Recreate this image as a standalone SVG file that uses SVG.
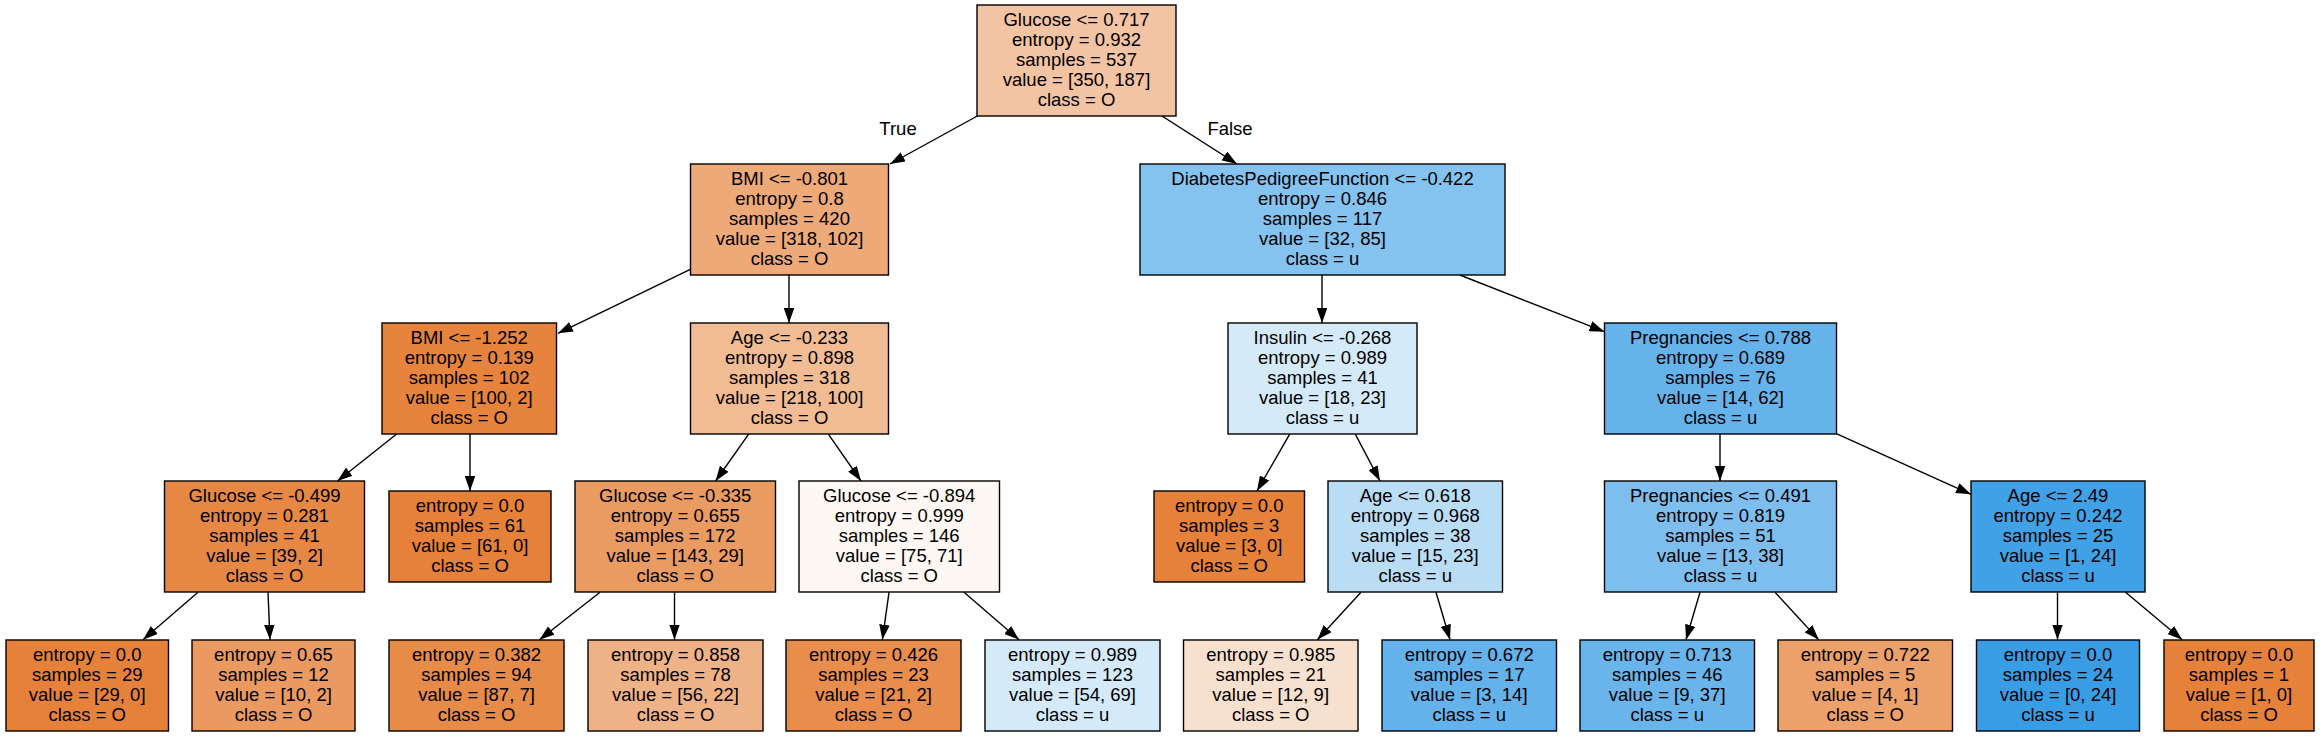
<svg xmlns="http://www.w3.org/2000/svg" width="2323" height="736" viewBox="0 0 2323 736">
<style>
.n rect{stroke:#000;stroke-width:1.4}
text{font-family:"Liberation Sans",Arial,Helvetica,sans-serif;font-size:18.5px;fill:#000;text-anchor:middle}
#edges line{stroke:#000;stroke-width:1.4;marker-end:url(#ah)}
</style>
<defs>
<marker id="ah" viewBox="0 0 10 7" refX="10" refY="3.5" markerWidth="15" markerHeight="10.5" markerUnits="userSpaceOnUse" orient="auto">
<path d="M0,0 L10,3.5 L0,7 z" fill="#000"/>
</marker>
</defs>
<rect width="2323" height="736" fill="#fff"/>
<g id="edges">
<line x1="977.3" y1="116" x2="890" y2="164"/>
<line x1="1162" y1="116" x2="1237" y2="164"/>
<line x1="690.3" y1="269.3" x2="558" y2="333.3"/>
<line x1="789" y1="275" x2="789" y2="323"/>
<line x1="1322" y1="275" x2="1322" y2="323"/>
<line x1="1459.8" y1="275" x2="1604.4" y2="331.7"/>
<line x1="397" y1="433.7" x2="337.5" y2="481"/>
<line x1="470" y1="433.7" x2="470" y2="491"/>
<line x1="749" y1="433.7" x2="715.6" y2="481"/>
<line x1="828" y1="433.7" x2="861" y2="481"/>
<line x1="1290" y1="433.7" x2="1257" y2="491"/>
<line x1="1355" y1="433.7" x2="1380" y2="481"/>
<line x1="1720" y1="433.7" x2="1720" y2="481"/>
<line x1="1836.3" y1="433.7" x2="1971" y2="494.3"/>
<line x1="198" y1="592.3" x2="143" y2="639.7"/>
<line x1="268" y1="592.3" x2="270" y2="639.7"/>
<line x1="600" y1="592.3" x2="539.5" y2="639.7"/>
<line x1="674.5" y1="592.3" x2="674.5" y2="639.7"/>
<line x1="889" y1="592.3" x2="882.4" y2="639.7"/>
<line x1="964" y1="592.3" x2="1019" y2="639.7"/>
<line x1="1361" y1="592.3" x2="1317.4" y2="639.7"/>
<line x1="1436" y1="592.3" x2="1450" y2="639.7"/>
<line x1="1700" y1="592.3" x2="1686" y2="639.7"/>
<line x1="1775" y1="592.3" x2="1818.7" y2="639.7"/>
<line x1="2057.5" y1="592.3" x2="2057.5" y2="639.7"/>
<line x1="2125.6" y1="592.3" x2="2182.2" y2="639.7"/>
<text x="898" y="135">True</text>
<text x="1230" y="135">False</text>
</g>
<g id="n0" class="n"><rect x="977" y="5" width="199" height="111" fill="#f3c4a3"/>
<text><tspan x="1076.5" y="25.5">Glucose &lt;= 0.717</tspan><tspan x="1076.5" y="45.5">entropy = 0.932</tspan><tspan x="1076.5" y="65.5">samples = 537</tspan><tspan x="1076.5" y="85.5">value = [350, 187]</tspan><tspan x="1076.5" y="105.5">class = O</tspan></text></g>
<g id="n1" class="n"><rect x="690.5" y="164" width="198" height="111" fill="#eda978"/>
<text><tspan x="789.5" y="184.5">BMI &lt;= -0.801</tspan><tspan x="789.5" y="204.5">entropy = 0.8</tspan><tspan x="789.5" y="224.5">samples = 420</tspan><tspan x="789.5" y="244.5">value = [318, 102]</tspan><tspan x="789.5" y="264.5">class = O</tspan></text></g>
<g id="n2" class="n"><rect x="1140" y="164" width="365" height="111" fill="#84c2ef"/>
<text><tspan x="1322.5" y="184.5">DiabetesPedigreeFunction &lt;= -0.422</tspan><tspan x="1322.5" y="204.5">entropy = 0.846</tspan><tspan x="1322.5" y="224.5">samples = 117</tspan><tspan x="1322.5" y="244.5">value = [32, 85]</tspan><tspan x="1322.5" y="264.5">class = u</tspan></text></g>
<g id="n3" class="n"><rect x="382" y="323" width="174.5" height="111" fill="#e6843d"/>
<text><tspan x="469.2" y="343.5">BMI &lt;= -1.252</tspan><tspan x="469.2" y="363.5">entropy = 0.139</tspan><tspan x="469.2" y="383.5">samples = 102</tspan><tspan x="469.2" y="403.5">value = [100, 2]</tspan><tspan x="469.2" y="423.5">class = O</tspan></text></g>
<g id="n4" class="n"><rect x="690.5" y="323" width="198" height="111" fill="#f1bb94"/>
<text><tspan x="789.5" y="343.5">Age &lt;= -0.233</tspan><tspan x="789.5" y="363.5">entropy = 0.898</tspan><tspan x="789.5" y="383.5">samples = 318</tspan><tspan x="789.5" y="403.5">value = [218, 100]</tspan><tspan x="789.5" y="423.5">class = O</tspan></text></g>
<g id="n5" class="n"><rect x="1228" y="323" width="189" height="111" fill="#d4eaf9"/>
<text><tspan x="1322.5" y="343.5">Insulin &lt;= -0.268</tspan><tspan x="1322.5" y="363.5">entropy = 0.989</tspan><tspan x="1322.5" y="383.5">samples = 41</tspan><tspan x="1322.5" y="403.5">value = [18, 23]</tspan><tspan x="1322.5" y="423.5">class = u</tspan></text></g>
<g id="n6" class="n"><rect x="1604.5" y="323" width="232" height="111" fill="#66b3eb"/>
<text><tspan x="1720.5" y="343.5">Pregnancies &lt;= 0.788</tspan><tspan x="1720.5" y="363.5">entropy = 0.689</tspan><tspan x="1720.5" y="383.5">samples = 76</tspan><tspan x="1720.5" y="403.5">value = [14, 62]</tspan><tspan x="1720.5" y="423.5">class = u</tspan></text></g>
<g id="n7" class="n"><rect x="164.5" y="481" width="200" height="111" fill="#e68843"/>
<text><tspan x="264.5" y="501.5">Glucose &lt;= -0.499</tspan><tspan x="264.5" y="521.5">entropy = 0.281</tspan><tspan x="264.5" y="541.5">samples = 41</tspan><tspan x="264.5" y="561.5">value = [39, 2]</tspan><tspan x="264.5" y="581.5">class = O</tspan></text></g>
<g id="n8" class="n"><rect x="389" y="491" width="162" height="91" fill="#e58139"/>
<text><tspan x="470" y="511.5">entropy = 0.0</tspan><tspan x="470" y="531.5">samples = 61</tspan><tspan x="470" y="551.5">value = [61, 0]</tspan><tspan x="470" y="571.5">class = O</tspan></text></g>
<g id="n9" class="n"><rect x="575" y="481" width="200.5" height="111" fill="#ea9b61"/>
<text><tspan x="675.2" y="501.5">Glucose &lt;= -0.335</tspan><tspan x="675.2" y="521.5">entropy = 0.655</tspan><tspan x="675.2" y="541.5">samples = 172</tspan><tspan x="675.2" y="561.5">value = [143, 29]</tspan><tspan x="675.2" y="581.5">class = O</tspan></text></g>
<g id="n10" class="n"><rect x="799" y="481" width="200.5" height="111" fill="#fef8f4"/>
<text><tspan x="899.2" y="501.5">Glucose &lt;= -0.894</tspan><tspan x="899.2" y="521.5">entropy = 0.999</tspan><tspan x="899.2" y="541.5">samples = 146</tspan><tspan x="899.2" y="561.5">value = [75, 71]</tspan><tspan x="899.2" y="581.5">class = O</tspan></text></g>
<g id="n11" class="n"><rect x="1154" y="491" width="150.5" height="91" fill="#e58139"/>
<text><tspan x="1229.2" y="511.5">entropy = 0.0</tspan><tspan x="1229.2" y="531.5">samples = 3</tspan><tspan x="1229.2" y="551.5">value = [3, 0]</tspan><tspan x="1229.2" y="571.5">class = O</tspan></text></g>
<g id="n12" class="n"><rect x="1328" y="481" width="174.5" height="111" fill="#baddf6"/>
<text><tspan x="1415.2" y="501.5">Age &lt;= 0.618</tspan><tspan x="1415.2" y="521.5">entropy = 0.968</tspan><tspan x="1415.2" y="541.5">samples = 38</tspan><tspan x="1415.2" y="561.5">value = [15, 23]</tspan><tspan x="1415.2" y="581.5">class = u</tspan></text></g>
<g id="n13" class="n"><rect x="1604.5" y="481" width="232" height="111" fill="#7dbeee"/>
<text><tspan x="1720.5" y="501.5">Pregnancies &lt;= 0.491</tspan><tspan x="1720.5" y="521.5">entropy = 0.819</tspan><tspan x="1720.5" y="541.5">samples = 51</tspan><tspan x="1720.5" y="561.5">value = [13, 38]</tspan><tspan x="1720.5" y="581.5">class = u</tspan></text></g>
<g id="n14" class="n"><rect x="1971" y="481" width="174" height="111" fill="#41a1e6"/>
<text><tspan x="2058" y="501.5">Age &lt;= 2.49</tspan><tspan x="2058" y="521.5">entropy = 0.242</tspan><tspan x="2058" y="541.5">samples = 25</tspan><tspan x="2058" y="561.5">value = [1, 24]</tspan><tspan x="2058" y="581.5">class = u</tspan></text></g>
<g id="n15" class="n"><rect x="6" y="640" width="162.5" height="91" fill="#e58139"/>
<text><tspan x="87.2" y="660.5">entropy = 0.0</tspan><tspan x="87.2" y="680.5">samples = 29</tspan><tspan x="87.2" y="700.5">value = [29, 0]</tspan><tspan x="87.2" y="720.5">class = O</tspan></text></g>
<g id="n16" class="n"><rect x="192" y="640" width="163" height="91" fill="#ea9a61"/>
<text><tspan x="273.5" y="660.5">entropy = 0.65</tspan><tspan x="273.5" y="680.5">samples = 12</tspan><tspan x="273.5" y="700.5">value = [10, 2]</tspan><tspan x="273.5" y="720.5">class = O</tspan></text></g>
<g id="n17" class="n"><rect x="389" y="640" width="175" height="91" fill="#e78b49"/>
<text><tspan x="476.5" y="660.5">entropy = 0.382</tspan><tspan x="476.5" y="680.5">samples = 94</tspan><tspan x="476.5" y="700.5">value = [87, 7]</tspan><tspan x="476.5" y="720.5">class = O</tspan></text></g>
<g id="n18" class="n"><rect x="588" y="640" width="175" height="91" fill="#efb287"/>
<text><tspan x="675.5" y="660.5">entropy = 0.858</tspan><tspan x="675.5" y="680.5">samples = 78</tspan><tspan x="675.5" y="700.5">value = [56, 22]</tspan><tspan x="675.5" y="720.5">class = O</tspan></text></g>
<g id="n19" class="n"><rect x="786" y="640" width="175" height="91" fill="#e88d4c"/>
<text><tspan x="873.5" y="660.5">entropy = 0.426</tspan><tspan x="873.5" y="680.5">samples = 23</tspan><tspan x="873.5" y="700.5">value = [21, 2]</tspan><tspan x="873.5" y="720.5">class = O</tspan></text></g>
<g id="n20" class="n"><rect x="985" y="640" width="175" height="91" fill="#d4eaf9"/>
<text><tspan x="1072.5" y="660.5">entropy = 0.989</tspan><tspan x="1072.5" y="680.5">samples = 123</tspan><tspan x="1072.5" y="700.5">value = [54, 69]</tspan><tspan x="1072.5" y="720.5">class = u</tspan></text></g>
<g id="n21" class="n"><rect x="1183.5" y="640" width="174.5" height="91" fill="#f8e0ce"/>
<text><tspan x="1270.7" y="660.5">entropy = 0.985</tspan><tspan x="1270.7" y="680.5">samples = 21</tspan><tspan x="1270.7" y="700.5">value = [12, 9]</tspan><tspan x="1270.7" y="720.5">class = O</tspan></text></g>
<g id="n22" class="n"><rect x="1382" y="640" width="174.5" height="91" fill="#63b2eb"/>
<text><tspan x="1469.2" y="660.5">entropy = 0.672</tspan><tspan x="1469.2" y="680.5">samples = 17</tspan><tspan x="1469.2" y="700.5">value = [3, 14]</tspan><tspan x="1469.2" y="720.5">class = u</tspan></text></g>
<g id="n23" class="n"><rect x="1580" y="640" width="174.5" height="91" fill="#69b5eb"/>
<text><tspan x="1667.2" y="660.5">entropy = 0.713</tspan><tspan x="1667.2" y="680.5">samples = 46</tspan><tspan x="1667.2" y="700.5">value = [9, 37]</tspan><tspan x="1667.2" y="720.5">class = u</tspan></text></g>
<g id="n24" class="n"><rect x="1778" y="640" width="174.5" height="91" fill="#eca06a"/>
<text><tspan x="1865.2" y="660.5">entropy = 0.722</tspan><tspan x="1865.2" y="680.5">samples = 5</tspan><tspan x="1865.2" y="700.5">value = [4, 1]</tspan><tspan x="1865.2" y="720.5">class = O</tspan></text></g>
<g id="n25" class="n"><rect x="1976.5" y="640" width="163" height="91" fill="#399de5"/>
<text><tspan x="2058" y="660.5">entropy = 0.0</tspan><tspan x="2058" y="680.5">samples = 24</tspan><tspan x="2058" y="700.5">value = [0, 24]</tspan><tspan x="2058" y="720.5">class = u</tspan></text></g>
<g id="n26" class="n"><rect x="2164" y="640" width="150" height="91" fill="#e58139"/>
<text><tspan x="2239" y="660.5">entropy = 0.0</tspan><tspan x="2239" y="680.5">samples = 1</tspan><tspan x="2239" y="700.5">value = [1, 0]</tspan><tspan x="2239" y="720.5">class = O</tspan></text></g>
</svg>
